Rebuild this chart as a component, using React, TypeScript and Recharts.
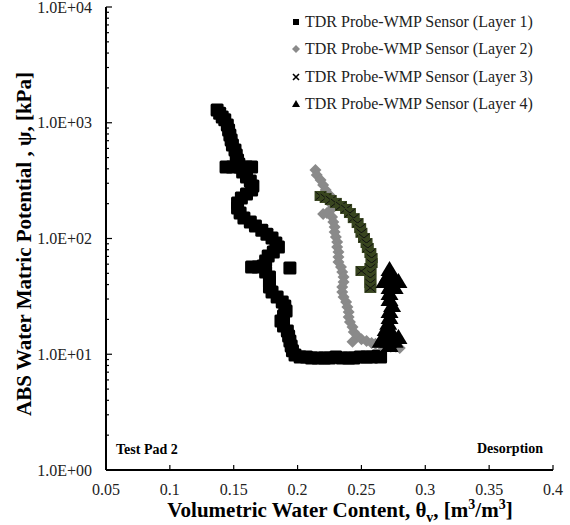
import React from "react";
import { ScatterChart, Scatter, XAxis, YAxis } from "recharts";

// x = volumetric water content [m3/m3], y = matric potential [kPa]
const layer1: [number, number][] = [
  [0.137, 1290], [0.139, 1210], [0.141, 1120], [0.143, 1060], [0.145, 955], [0.146, 865],
  [0.147, 784], [0.148, 710], [0.149, 642], [0.151, 582], [0.152, 526], [0.153, 476], [0.154, 440],
  [0.144, 415], [0.149, 415], [0.155, 415], [0.160, 415], [0.164, 415],
  [0.157, 375], [0.160, 340], [0.163, 314], [0.165, 284], [0.164, 262], [0.160, 242], [0.156, 224],
  [0.153, 203], [0.153, 183], [0.155, 166], [0.158, 150], [0.163, 139], [0.167, 128], [0.172, 118],
  [0.176, 109], [0.180, 101], [0.183, 91.4], [0.185, 84.5], [0.181, 76.4], [0.177, 70.6],
  [0.175, 63.9], [0.173, 57.8], [0.164, 56.8], [0.169, 56.8], [0.194, 55.6],
  [0.175, 51.4], [0.178, 46.5], [0.178, 42.1], [0.178, 38.1], [0.180, 34.5], [0.184, 31.2],
  [0.188, 28.3], [0.190, 26.1], [0.191, 23.6], [0.189, 21.4], [0.187, 19.4], [0.189, 17.5],
  [0.192, 15.9], [0.193, 14.4], [0.194, 13.0], [0.195, 11.8], [0.196, 10.7], [0.198, 9.86],
  [0.202, 9.47], [0.207, 9.47], [0.211, 9.28], [0.216, 9.28], [0.221, 9.28], [0.225, 9.28],
  [0.230, 9.47], [0.235, 9.28], [0.240, 9.28], [0.244, 9.28], [0.249, 9.47], [0.254, 9.47],
  [0.258, 9.47], [0.263, 9.66], [0.265, 9.47],
];

const layer2: [number, number][] = [
  [0.214, 391], [0.215, 354], [0.218, 320], [0.220, 290], [0.222, 262], [0.225, 238],
  [0.226, 215], [0.227, 195], [0.226, 176], [0.223, 166], [0.220, 163], [0.227, 153],
  [0.228, 139], [0.229, 126], [0.229, 114], [0.230, 103], [0.231, 93.3], [0.231, 84.5],
  [0.232, 76.4], [0.232, 69.2], [0.232, 62.6], [0.234, 56.8], [0.235, 51.4], [0.236, 46.5],
  [0.236, 42.1], [0.235, 38.1], [0.235, 34.5], [0.236, 31.2], [0.238, 28.3], [0.239, 25.6],
  [0.240, 23.2], [0.240, 21.0], [0.241, 19.0], [0.243, 17.2], [0.244, 15.6], [0.247, 14.4],
  [0.250, 13.5], [0.254, 13.0], [0.258, 12.5], [0.261, 12.3], [0.265, 12.0], [0.269, 11.8],
  [0.273, 11.6], [0.277, 11.6], [0.280, 11.3], [0.243, 12.8],
];

const layer3: [number, number][] = [
  [0.218, 233], [0.222, 224], [0.226, 215], [0.230, 203], [0.234, 191], [0.238, 180],
  [0.241, 166], [0.244, 150], [0.247, 136], [0.249, 123], [0.250, 112], [0.252, 101],
  [0.254, 91.4], [0.255, 82.8], [0.257, 74.9], [0.258, 67.8], [0.258, 61.4], [0.257, 55.6],
  [0.257, 50.4], [0.257, 45.6], [0.257, 41.2], [0.257, 37.4], [0.250, 52.4],
];

const layer4: [number, number][] = [
  [0.272, 53.4], [0.271, 47.4], [0.274, 47.4], [0.268, 42.1], [0.274, 42.1], [0.279, 42.1],
  [0.272, 37.4], [0.276, 37.4], [0.272, 33.2], [0.272, 29.4], [0.274, 26.1], [0.272, 23.2],
  [0.272, 20.6], [0.271, 18.3], [0.269, 16.2], [0.268, 14.4], [0.274, 15.0], [0.265, 12.8],
  [0.271, 12.8], [0.276, 12.8], [0.279, 13.8], [0.272, 11.8],
];

const seriesNames = [
  "TDR Probe-WMP Sensor (Layer 1)",
  "TDR Probe-WMP Sensor (Layer 2)",
  "TDR Probe-WMP Sensor (Layer 3)",
  "TDR Probe-WMP Sensor (Layer 4)",
];

const xTicks = [0.05, 0.1, 0.15, 0.2, 0.25, 0.3, 0.35, 0.4];
const yDecades = [1, 10, 100, 1000, 10000];
const yMinor = [2, 3, 4, 5, 6, 7, 8, 9];
const yTicks = [
  ...yDecades,
  ...yDecades.slice(0, -1).flatMap((d) => yMinor.map((m) => d * m)),
].sort((a, b) => a - b);

const toPts = (arr: [number, number][]) => arr.map(([x, y]) => ({ x, y }));

const FONT = '"Liberation Serif", "Times New Roman", serif';
const isMajor = (v: number) => yDecades.includes(v);
const fmtY = (v: number) => `1.0E+${String(Math.round(Math.log10(v))).padStart(2, "0")}`;

const LeftTick = (props: any) => {
  const { x, y, payload } = props;
  const v = payload.value;
  const ax = x + 14;
  return (
    <g>
      <line x1={ax} x2={ax + (isMajor(v) ? 6 : 3)} y1={y} y2={y} stroke="#000" strokeWidth={1.2} />
      {isMajor(v) && (
        <text x={x} y={y} dy="0.35em" textAnchor="end" fontFamily={FONT} fontSize={16} fill="#222">
          {fmtY(v)}
        </text>
      )}
    </g>
  );
};

const RightTick = (props: any) => {
  const { x, y, payload } = props;
  return <line x1={x} x2={x - (isMajor(payload.value) ? 6 : 3)} y1={y} y2={y} stroke="#000" strokeWidth={1.2} />;
};

const BottomTick = (props: any) => {
  const { x, y, payload } = props;
  const ay = y - 14;
  return (
    <g>
      <line x1={x} x2={x} y1={ay} y2={ay - 5} stroke="#000" strokeWidth={1.2} />
      <text x={x} y={y} dy="0.71em" textAnchor="middle" fontFamily={FONT} fontSize={16} fill="#222">
        {String(payload.value)}
      </text>
    </g>
  );
};

const TopTick = (props: any) => {
  const { x, y } = props;
  return <line x1={x} x2={x} y1={y} y2={y + 5} stroke="#000" strokeWidth={1.2} />;
};

const Square = ({ cx, cy }: any) => <rect x={cx - 6.5} y={cy - 6.5} width={13} height={13} rx={1.5} fill="#000" />;
const Diamond = ({ cx, cy }: any) => (
  <path d={`M${cx},${cy - 6}L${cx + 6},${cy}L${cx},${cy + 6}L${cx - 6},${cy}Z`} fill="#8a8a8a" />
);
const Star = ({ cx, cy }: any) => (
  <g>
    <rect x={cx - 6} y={cy - 5} width={12} height={10} fill="#38451f" />
    <path d={`M${cx - 5},${cy - 4}L${cx + 5},${cy + 4}M${cx - 5},${cy + 4}L${cx + 5},${cy - 4}`} stroke="#111" strokeWidth={1} />
  </g>
);
const Triangle = ({ cx, cy }: any) => (
  <path d={`M${cx},${cy - 9}L${cx + 9},${cy + 6}L${cx - 9},${cy + 6}Z`} fill="#000" />
);

const legendIcons = [
  <rect x={3} y={3} width={6} height={6} fill="#000" />,
  <path d="M6,2L10,6L6,10L2,6Z" fill="#8a8a8a" />,
  <path d="M3,3L9,9M3,9L9,3" stroke="#000" strokeWidth={1.6} />,
  <path d="M6,2L10,9L2,9Z" fill="#000" />,
];

export default function App() {
  return (
    <div style={{ position: "absolute", left: 0, top: 0, width: 570, height: 525, background: "#fff" }}>
      <ScatterChart width={570} height={525} margin={{ top: 7, right: 17, bottom: 0, left: 0 }}>
        <XAxis
          xAxisId="b"
          dataKey="x"
          type="number"
          domain={[0.05, 0.4]}
          ticks={xTicks}
          interval={0}
          allowDataOverflow
          height={55}
          tickSize={0}
          tickMargin={14}
          tickLine={false}
          axisLine={{ stroke: "#000", strokeWidth: 2 }}
          tick={<BottomTick />}
        />
        <XAxis
          xAxisId="t"
          orientation="top"
          type="number"
          domain={[0.05, 0.4]}
          ticks={xTicks}
          interval={0}
          allowDataOverflow
          height={0}
          tickSize={0}
          tickMargin={0}
          tickLine={false}
          axisLine={{ stroke: "#000", strokeWidth: 2 }}
          tick={<TopTick />}
        />
        <YAxis
          yAxisId="l"
          dataKey="y"
          type="number"
          scale="log"
          domain={[1, 10000]}
          ticks={yTicks}
          interval={0}
          allowDataOverflow
          width={106}
          tickSize={0}
          tickMargin={14}
          tickLine={false}
          axisLine={{ stroke: "#000", strokeWidth: 2 }}
          tick={<LeftTick />}
        />
        <YAxis
          yAxisId="r"
          orientation="right"
          type="number"
          scale="log"
          domain={[1, 10000]}
          ticks={yTicks}
          interval={0}
          allowDataOverflow
          width={0}
          tickSize={0}
          tickMargin={0}
          tickLine={false}
          axisLine={{ stroke: "#000", strokeWidth: 2 }}
          tick={<RightTick />}
        />
        <Scatter name={seriesNames[0]} xAxisId="b" yAxisId="l" data={toPts(layer1)} shape={<Square />} isAnimationActive={false} />
        <Scatter name={seriesNames[1]} xAxisId="b" yAxisId="l" data={toPts(layer2)} shape={<Diamond />} isAnimationActive={false} />
        <Scatter name={seriesNames[2]} xAxisId="b" yAxisId="l" data={toPts(layer3)} shape={<Star />} isAnimationActive={false} />
        <Scatter name={seriesNames[3]} xAxisId="b" yAxisId="l" data={toPts(layer4)} shape={<Triangle />} isAnimationActive={false} />
      </ScatterChart>

      <div style={{ position: "absolute", top: 8, left: 290, fontFamily: FONT, fontSize: 16, color: "#222" }}>
        {seriesNames.map((n, i) => (
          <div key={n} style={{ display: "flex", alignItems: "center", height: 27.5 }}>
            <svg width={12} height={12} style={{ marginRight: 3 }}>
              {legendIcons[i]}
            </svg>
            <span>{n}</span>
          </div>
        ))}
      </div>

      <div style={{ position: "absolute", left: 116, top: 442, fontFamily: FONT, fontWeight: "bold", fontSize: 14, lineHeight: "16px" }}>
        Test Pad 2
      </div>
      <div style={{ position: "absolute", right: 27, top: 441, fontFamily: FONT, fontWeight: "bold", fontSize: 14, lineHeight: "16px" }}>
        Desorption
      </div>
      <div
        style={{
          position: "absolute", left: 340, top: 498, transform: "translateX(-50%)", whiteSpace: "nowrap",
          fontFamily: FONT, fontWeight: "bold", fontSize: 21, lineHeight: "24px",
        }}
      >
        Volumetric Water Content, θ<sub style={{ fontSize: 14, lineHeight: 0 }}>v</sub>, [m
        <sup style={{ fontSize: 14, lineHeight: 0 }}>3</sup>/m<sup style={{ fontSize: 14, lineHeight: 0 }}>3</sup>]
      </div>
      <div
        style={{
          position: "absolute", left: 24 - 200, top: 244 - 12, width: 400, height: 24, textAlign: "center",
          transform: "rotate(-90deg)", whiteSpace: "nowrap",
          fontFamily: FONT, fontWeight: "bold", fontSize: 21, lineHeight: "24px",
        }}
      >
        ABS Water Matric Potential , ψ, [kPa]
      </div>
    </div>
  );
}
